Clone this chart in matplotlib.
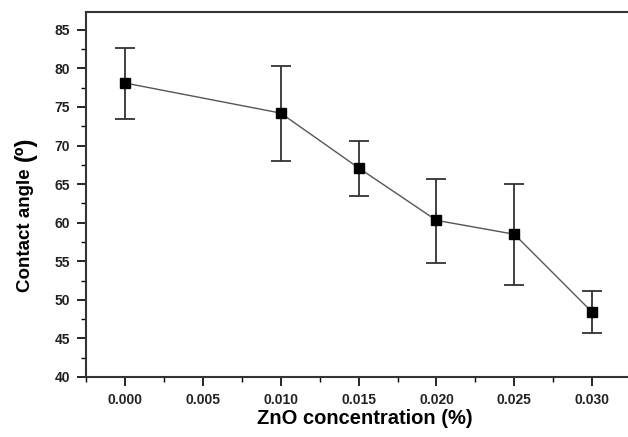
import matplotlib
matplotlib.use("Agg")
import matplotlib.pyplot as plt
from matplotlib.ticker import MultipleLocator, FormatStrFormatter

# values
zno_conc = [0.000, 0.010, 0.015, 0.020, 0.025, 0.030]
contact_angle = [78.1, 74.2, 67.1, 60.3, 58.5, 48.4]
err_low = [4.6, 6.2, 3.7, 5.5, 6.6, 2.7]
err_high = [4.5, 6.1, 3.5, 5.4, 6.5, 2.7]

plt.rcParams["font.family"] = ["Liberation Sans", "DejaVu Sans"]

fig = plt.figure(figsize=(6.28, 4.37), dpi=100)
ax = fig.add_axes([0.137, 0.1373, 0.868, 0.8352])

ax.errorbar(zno_conc, contact_angle, yerr=[err_low, err_high],
            fmt="none", ecolor="#333333", elinewidth=1.3, capsize=7, capthick=1.3)
ax.plot(zno_conc, contact_angle, color="#555555", linewidth=1.0,
        marker="s", markersize=7.5, markerfacecolor="black", markeredgecolor="black")

ax.set_xlim(-0.0025, 0.0325)
ax.set_ylim(40, 87.3)
ax.xaxis.set_major_locator(MultipleLocator(0.005))
ax.xaxis.set_minor_locator(MultipleLocator(0.0025))
ax.xaxis.set_major_formatter(FormatStrFormatter("%.3f"))
ax.yaxis.set_major_locator(MultipleLocator(5))
ax.yaxis.set_minor_locator(MultipleLocator(2.5))

ax.tick_params(which="major", direction="out", length=6.5, width=1.2, labelsize=10, pad=5)
ax.tick_params(which="minor", direction="out", length=3.6, width=1.0)
for lbl in ax.get_xticklabels() + ax.get_yticklabels():
    lbl.set_fontweight("bold")
    lbl.set_color("#222222")

for sp in ax.spines.values():
    sp.set_linewidth(1.5)
    sp.set_color("#333333")

ax.set_xlabel("ZnO concentration (%)", fontsize=14.5, fontweight="bold")
ax.xaxis.set_label_coords(0.512, -0.088)

# y label: the unit part is set a bit larger, as in the original
ylab = fig.text(25 / 628, 1 - 230 / 437, "Contact angle", rotation=90,
                ha="center", va="center", fontsize=13.5, fontweight="bold")
ax.annotate("(º)", xy=(0.5, 1.0), xycoords=ylab, xytext=(0, 5),
            textcoords="offset points", rotation=90, ha="center", va="bottom",
            fontsize=17, fontweight="bold")

fig.savefig("out.png", dpi=100)
